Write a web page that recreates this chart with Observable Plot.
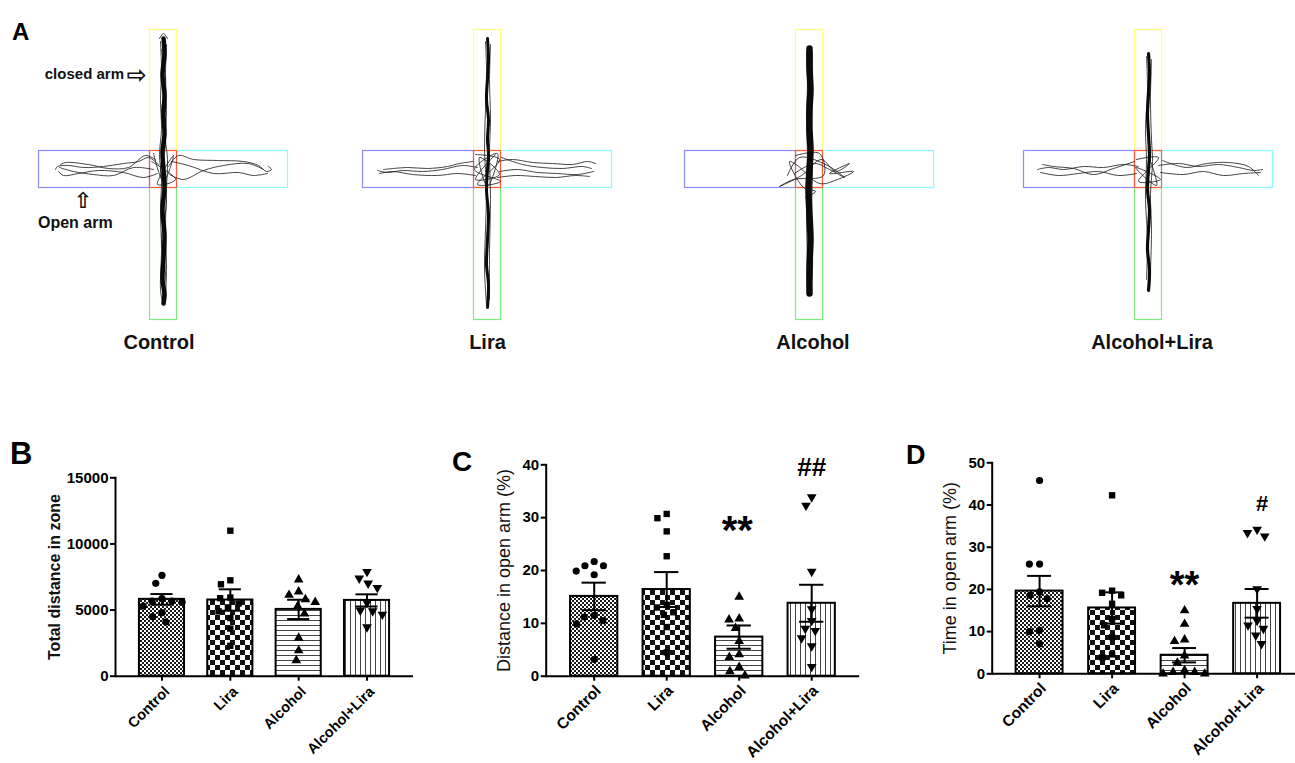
<!DOCTYPE html>
<html><head><meta charset="utf-8">
<script src="https://cdn.jsdelivr.net/npm/d3@7"></script>
<script src="https://cdn.jsdelivr.net/npm/@observablehq/plot@0.6"></script>
<style>
html,body{margin:0;padding:0;background:#fff;overflow:hidden;}
#root{position:relative;width:1295px;height:763px;overflow:hidden;font-family:"Liberation Sans",Arial,sans-serif;}
.panel{position:absolute;}
.letter{position:absolute;font-weight:bold;color:#000;line-height:1;font-family:"Liberation Sans",Arial,sans-serif;}
</style></head><body>
<svg width="0" height="0" style="position:absolute">
  <defs>
    <pattern id="pFine" width="4" height="4" patternUnits="userSpaceOnUse">
      <rect width="4" height="4" fill="#fff"/><rect width="2" height="2" fill="#1a1a1a"/><rect x="2" y="2" width="2" height="2" fill="#1a1a1a"/>
    </pattern>
    <pattern id="pCheck" width="10" height="10" patternUnits="userSpaceOnUse">
      <rect width="10" height="10" fill="#fff"/><rect width="5" height="5" fill="#111"/><rect x="5" y="5" width="5" height="5" fill="#111"/>
    </pattern>
    <pattern id="pHoriz" width="5" height="5" patternUnits="userSpaceOnUse">
      <rect width="5" height="5" fill="#fff"/><rect width="5" height="1" fill="#444"/>
    </pattern>
    <pattern id="pVert" width="5" height="5" patternUnits="userSpaceOnUse">
      <rect width="5" height="5" fill="#fff"/><rect width="1" height="5" fill="#444"/>
    </pattern>
  </defs>
</svg>
<div id="root"></div>
<script>
// ---------------- data ----------------
const groups = ["Control", "Lira", "Alcohol", "Alcohol+Lira"];

// Panel B: total distance in zone
const totalDistMean = [5810, 5760, 5050, 5730];
const totalDistSem = [400, 810, 730, 460];
const totalDistControl = [7630, 7020, 5860, 5680, 5680, 5600, 5300, 4800, 4500, 4090];
const totalDistLira = [11000, 7250, 6950, 5950, 5900, 5500, 5200, 4900, 4400, 3600, 2300];
const totalDistAlcohol = [7300, 6390, 6140, 5810, 5600, 5300, 4720, 2900, 1940, 1190];
const totalDistAlcLira = [7900, 7400, 7020, 6690, 5560, 4980, 4920, 4670, 3710];

// Panel C: distance in open arm (%)
const openDistMean = [15.1, 16.4, 7.4, 13.8];
const openDistSem = [2.6, 3.3, 2.2, 3.5];
const openDistControl = [21.7, 20.9, 20.9, 19.9, 19.2, 11.5, 11.2, 10.5, 9.9, 3.2];
const openDistLira = [30.7, 29.9, 27.4, 22.7, 13.5, 13.0, 12.1, 11.6, 9.3, 4.5];
const openDistAlcohol = [15.0, 10.9, 10.7, 9.1, 6.6, 4.1, 3.6, 1.7, 0.9, 0.1];
const openDistAlcLira = [33.9, 32.3, 19.8, 12.7, 10.5, 9.0, 8.6, 7.2, 5.7, 1.8];

// Panel D: time in open arm (%)
const openTimeMean = [19.6, 15.6, 4.4, 16.7];
const openTimeSem = [3.6, 3.7, 1.7, 3.4];
const openTimeControl = [45.8, 26.0, 26.0, 19.4, 18.6, 17.8, 10.3, 10.0, 7.1];
const openTimeLira = [42.3, 19.7, 19.2, 18.6, 16.6, 13.0, 11.5, 8.7, 4.6, 3.9];
const openTimeAlcohol = [15.0, 11.8, 8.1, 7.7, 4.3, 2.6, 0.8, 0.4, 0.4, 0.0, 0.0];
const openTimeAlcLira = [34.2, 33.4, 32.6, 20.1, 15.4, 12.6, 11.5, 10.7, 9.1, 7.1];

// Panel A: maze arms (maze units, centre at 0,0, y up)
const armNames = ["closed arm N", "closed arm S", "open arm W", "open arm E", "centre"];
const armX1 = [-13.5, -13.5, -124.5, 13.5, -13.5];
const armX2 = [13.5, 13.5, -13.5, 124.5, 13.5];
const armY1 = [18.5, -150.5, -18.5, -18.5, -18.5];
const armY2 = [139.5, -18.5, 18.5, 18.5, 18.5];

// Panel A: tracks (x,y pairs)
const controlBand = [0,131, 1,115, -1,95, 1,75, 0,55, 1,35, -1,18, 0,0, 1,-18, -1,-40, 1,-65, 0,-90, -1,-110, 1,-125, 0,-134];
const controlPaths = [
 [-3,128, -2,100, -3,70, -2,40, -4,15, -2,-10, -3,-40, -2,-80, -3,-120, -1,-133],
 [3,125, 2,95, 3,60, 2,30, 4,10, 3,-20, 2,-60, 3,-100, 2,-130],
 [-2,120, 2,90, -2,55, 2,25, -3,0, 3,-30, -2,-70, 2,-105, -1,-128],
 [-4,131, 0,136, 4,131],
 [-5,5, -15,12, -25,8, -40,6, -60,3, -80,2, -95,4, -106,3, -108,0],
 [-6,-4, -20,-8, -40,-3, -65,-1, -85,-4, -100,-6, -105,-2],
 [-10,0, -30,2, -50,-6, -70,-5, -90,-2, -104,2],
 [-8,10, -18,14, -35,2, -55,1, -75,5, -98,7, -103,5],
 [5,3, 15,14, 30,10, 55,9, 80,8, 95,4, 103,-2, 108,0, 105,3],
 [6,-5, 20,-10, 40,-1, 60,4, 85,6, 100,0],
 [8,8, 25,4, 50,-4, 75,-3, 90,-6, 104,-4],
 [-10,16, 0,-12, 10,14, -6,-15, 12,-10, -12,8]
];
const liraBand = [0,131, 1,110, 0,90, -1,70, 1,50, 0,30, 1,15, 0,0, -1,-20, 1,-45, 0,-70, -1,-95, 1,-115, 0,-138];
const liraPaths = [
 [-2,128, -1,100, -2,60, -3,20, -1,-20, -2,-60, -3,-100, -1,-135],
 [3,125, 2,90, 3,50, 2,18, 3,-30, 2,-80, 2,-130],
 [-12,15, 12,10, -10,-15, 13,-12, -13,0, 10,16, 0,-17, -8,12, 12,-5, -12,-10, 8,15],
 [-10,2, -25,4, -45,0, -65,-2, -85,-1, -100,-3, -110,-1],
 [-12,-6, -30,-4, -50,-6, -75,-5, -95,-2, -108,-4],
 [-14,8, -28,6, -40,3, -60,1, -80,2, -104,0],
 [10,8, 25,10, 45,7, 65,6, 85,5, 100,8, 108,6],
 [12,-2, 30,0, 50,-3, 70,-4, 90,-5, 106,-2],
 [14,12, 35,5, 55,2, 75,1, 95,3, 104,1],
 [10,-8, 28,-6, 48,-7, 68,-8, 88,-6, 102,-7]
];
const alcoholBand = [0,121, 0,100, 1,80, 0,60, 0,40, 1,20, 0,0, -1,-20, 0,-45, 1,-70, 0,-95, 0,-124];
const alcoholPaths = [
 [-3,118, -2,90, -3,50, -2,10, -3,-40, -2,-90, -1,-122],
 [3,118, 3,80, 2,40, 3,5, 2,-50, 3,-100, 1,-121],
 [-14,14, 10,16, 14,-6, -16,-10, -30,-17, -8,-6, 12,10, 26,-2, 40,6, 20,-4, 44,-2, 28,-10, 10,-14, -12,4, -20,8, -6,-18, 6,-22, -4,-28],
 [-15,-4, 5,6, 20,0, 35,-8, 18,4, -10,12, -22,-6]
];
const alcLiraBand = [0,116, 1,95, 0,75, -1,55, 0,35, 1,15, 0,0, -1,-20, 1,-40, 0,-60, -1,-80, 1,-100, 0,-121];
const alcLiraPaths = [
 [-2,113, -1,80, -3,40, -2,10, -3,-30, -1,-70, -2,-110],
 [3,110, 2,70, 3,30, 4,8, 2,-25, 3,-60, 2,-100, 1,-118],
 [-12,10, 10,12, -10,-12, 12,-10, -13,2, 8,-16, 0,14],
 [-10,3, -25,5, -45,2, -65,3, -85,0, -100,2, -111,0],
 [-12,-4, -30,-6, -50,-2, -70,-4, -90,-6, -108,-3],
 [-14,8, -35,1, -55,-5, -75,1, -95,3, -106,5],
 [10,4, 30,6, 50,3, 70,5, 90,2, 105,-1, 114,0],
 [12,-3, 35,-5, 55,-2, 75,-6, 95,-4, 112,-3],
 [14,9, 38,2, 58,6, 80,7, 100,3, 110,-6]
];

// ---------------- helpers ----------------
const FONT = "'Liberation Sans', Arial, sans-serif";
const root = document.getElementById("root");
function place(node, left, top) {
  const div = document.createElement("div");
  div.className = "panel";
  div.style.left = left + "px";
  div.style.top = top + "px";
  div.appendChild(node);
  root.appendChild(div);
}
function letter(t, left, top, size) {
  const d = document.createElement("div");
  d.className = "letter";
  d.textContent = t;
  d.style.left = left + "px"; d.style.top = top + "px"; d.style.fontSize = size + "px";
  root.appendChild(d);
}
const triangleDown = {
  draw(ctx, size) {
    const y = Math.sqrt(size / (Math.sqrt(3) * 3));
    ctx.moveTo(0, 2 * y);
    ctx.lineTo(-Math.sqrt(3) * y, -y);
    ctx.lineTo(Math.sqrt(3) * y, -y);
    ctx.closePath();
  }
};
const groupSymbols = ["circle", "square", "triangle", triangleDown];
const groupFills = ["url(#pFine)", "url(#pCheck)", "url(#pHoriz)", "url(#pVert)"];

// ---------------- Panel A ----------------
const arms = armNames.map((a, i) => ({arm: a, x1: armX1[i], x2: armX2[i], y1: armY1[i], y2: armY2[i]}));
function toRows(paths) {
  return paths.flatMap((p, k) => {
    const out = [];
    for (let j = 0; j < p.length; j += 2) out.push({id: k, x: p[j], y: p[j + 1]});
    return out;
  });
}
function maze(label, band, paths, bandWidth, labelDx, extra = []) {
  return Plot.plot({
    width: 260, height: 340, margin: 0,
    style: {fontFamily: FONT, background: "transparent", overflow: "visible", maxWidth: "none"},
    x: {domain: [-130, 130], range: [0, 260], axis: null},
    y: {domain: [-155, 145], range: [300, 0], axis: null},
    color: {domain: armNames, range: ["#ffff7a", "#7cef7c", "#8c8cff", "#88ffff", "#ff5a3a"]},
    marks: [
      Plot.rect(arms, {x1: "x1", x2: "x2", y1: "y1", y2: "y2", stroke: "arm", fill: "none", strokeWidth: 1.2}),
      Plot.line(toRows(paths), {x: "x", y: "y", z: "id", stroke: "#1a1a1a", strokeWidth: 0.9, strokeOpacity: 0.9, curve: "catmull-rom"}),
      Plot.line(toRows([band]), {x: "x", y: "y", z: "id", stroke: "#0a0a0a", strokeWidth: bandWidth, strokeLinecap: "round", curve: "catmull-rom"}),
      Plot.text([label], {text: d => d, frameAnchor: "bottom", dy: -16, dx: labelDx, fontSize: 20, fontWeight: "bold", fill: "#111"}),
      ...extra
    ]
  });
}
const mazeTop = 23.5;
const controlNotes = [
  Plot.text(["closed arm"], {text: d => d, x: -39.5, y: 90.5, textAnchor: "end", lineAnchor: "bottom", fontSize: 15, fontWeight: "bold", fill: "#111"}),
  Plot.text(["\u21E8"], {text: d => d, x: -27, y: 94.5, fontSize: 24, fontWeight: "bold", fontFamily: "DejaVu Sans", fill: "#111"}),
  Plot.text(["Open arm"], {text: d => d, x: -125.5, y: -58.5, textAnchor: "start", lineAnchor: "bottom", fontSize: 16, fontWeight: "bold", fill: "#111"}),
  Plot.text(["\u21E7"], {text: d => d, x: -80.5, y: -31, fontSize: 22, fontWeight: "bold", fontFamily: "DejaVu Sans", fill: "#111"})
];
place(maze("Control", controlBand, controlPaths, 4.5, -4.5, controlNotes), 162.5 - 130, mazeTop);
place(maze("Lira", liraBand, liraPaths, 3, 0), 487 - 130, mazeTop);
place(maze("Alcohol", alcoholBand, alcoholPaths, 6.5, 3.5), 808.5 - 130, mazeTop);
place(maze("Alcohol+Lira", alcLiraBand, alcLiraPaths, 3.2, 3.5), 1148 - 130, mazeTop);
letter("A", 12, 19.9, 24);

// ---------------- Bar panels ----------------
function table(means, sems) {
  return groups.map((g, i) => ({group: g, mean: means[i], sem: sems[i]}));
}
function points(arrs) {
  return arrs.flatMap((a, i) => a.map(v => ({group: groups[i], value: v})));
}
function barPanel(cfg) {
  const {left, top, width, height, mL, mR, mT, mB, yMax, ticks, pad, data, pts,
         yLabel, labelWeight, labelSize, labelDx, tickFont, xFont, xdx, xdy, sig} = cfg;
  const common = {width, height, marginLeft: mL, marginRight: mR, marginTop: mT, marginBottom: mB,
    style: {fontFamily: FONT, background: "transparent", overflow: "visible", maxWidth: "none", color: "#000"}};
  const base = Plot.plot({
    ...common,
    x: {domain: groups, paddingInner: pad[0], paddingOuter: pad[1], round: false},
    y: {domain: [0, yMax]},
    color: {domain: groups, range: groupFills},
    marks: [
      Plot.barY(data, {x: "group", y: "mean", fill: "group", stroke: "#000", strokeWidth: 2}),
      Plot.ruleX(data, {x: "group", y1: d => d.mean - d.sem, y2: d => d.mean + d.sem, stroke: "#000", strokeWidth: 2}),
      Plot.tickY(data, {x: "group", y: d => d.mean + d.sem, stroke: "#000", strokeWidth: 2, inset: 11.5}),
      Plot.tickY(data, {x: "group", y: d => d.mean - d.sem, stroke: "#000", strokeWidth: 2, inset: 11.5}),
      Plot.ruleY([0], {stroke: "#000", strokeWidth: 2}),
      Plot.frame({anchor: "left", stroke: "#000", strokeWidth: 2}),
      Plot.axisY({ticks, tickSize: 5, tickPadding: 2, strokeWidth: 2, fontSize: tickFont, fontWeight: "bold", label: null, tickFormat: d => String(d)}),
      Plot.axisX({tickSize: 5, strokeWidth: 2, tickFormat: () => "", label: null}),
      Plot.axisX({tickSize: 0, tickRotate: -45, tickPadding: 0, fontSize: xFont, fontWeight: "bold", label: null, dx: xdx, dy: xdy}),
      Plot.text([yLabel], {text: d => d, frameAnchor: "left", textAnchor: "middle", lineAnchor: "middle", rotate: -90, dx: labelDx, fontSize: labelSize, fontWeight: labelWeight, fill: "#111"}),
      ...sig
    ]
  });
  const dots = Plot.plot({
    ...common,
    fx: {domain: groups, paddingInner: pad[0], paddingOuter: pad[1], round: false, axis: null, label: null},
    y: {domain: [0, yMax], axis: null},
    marks: groups.map((g, i) => Plot.dot(pts.filter(d => d.group === g),
      Plot.dodgeX({anchor: "middle", padding: 3},
        {fx: "group", y: "value", r: 3.6, fill: "#000", stroke: "none", symbol: groupSymbols[i]})))
  });
  place(base, left, top);
  place(dots, left, top);
}

barPanel({
  left: 0, top: 440, width: 420, height: 323, mL: 115, mR: 7, mT: 37.3, mB: 87.3,
  yMax: 15000, ticks: [0, 5000, 10000, 15000], pad: [0.34, 0.35],
  data: table(totalDistMean, totalDistSem),
  pts: points([totalDistControl, totalDistLira, totalDistAlcohol, totalDistAlcLira]),
  yLabel: "Total distance in zone", labelWeight: "bold", labelSize: 16, labelDx: -60.5,
  tickFont: 15, xFont: 14.5, xdx: 5, xdy: 13, sig: []
});
barPanel({
  left: 420, top: 440, width: 445, height: 323, mL: 125.7, mR: 5.8, mT: 24.3, mB: 87.3,
  yMax: 40, ticks: [0, 10, 20, 30, 40], pad: [0.348, 0.336],
  data: table(openDistMean, openDistSem),
  pts: points([openDistControl, openDistLira, openDistAlcohol, openDistAlcLira]),
  yLabel: "Distance in open arm (%)", labelWeight: "normal", labelSize: 18, labelDx: -42,
  tickFont: 15, xFont: 15.5, xdx: 4, xdy: 12,
  sig: [
    Plot.text(["**"], {text: d => d, x: () => "Alcohol", y: 27.4, dx: -2, fontSize: 40, fontWeight: "bold"}),
    Plot.text(["##"], {text: d => d, x: () => "Alcohol+Lira", y: 39.4, fontSize: 26, fontWeight: "bold"})
  ]
});
barPanel({
  left: 880, top: 440, width: 429, height: 323, mL: 111.7, mR: 5, mT: 22.3, mB: 89.7,
  yMax: 50, ticks: [0, 10, 20, 30, 40, 50], pad: [0.353, 0.33],
  data: table(openTimeMean, openTimeSem),
  pts: points([openTimeControl, openTimeLira, openTimeAlcohol, openTimeAlcLira]),
  yLabel: "Time in open arm (%)", labelWeight: "normal", labelSize: 18, labelDx: -41.7,
  tickFont: 15, xFont: 15.5, xdx: 4, xdy: 12,
  sig: [
    Plot.text(["**"], {text: d => d, x: () => "Alcohol", y: 20.8, fontSize: 38, fontWeight: "bold"}),
    Plot.text(["#"], {text: d => d, x: () => "Alcohol+Lira", y: 40.2, dx: 5, fontSize: 22, fontWeight: "bold"})
  ]
});
letter("B", 10, 438, 31);
letter("C", 452, 448.4, 28);
letter("D", 906, 441.5, 27);
</script>
</body></html>
